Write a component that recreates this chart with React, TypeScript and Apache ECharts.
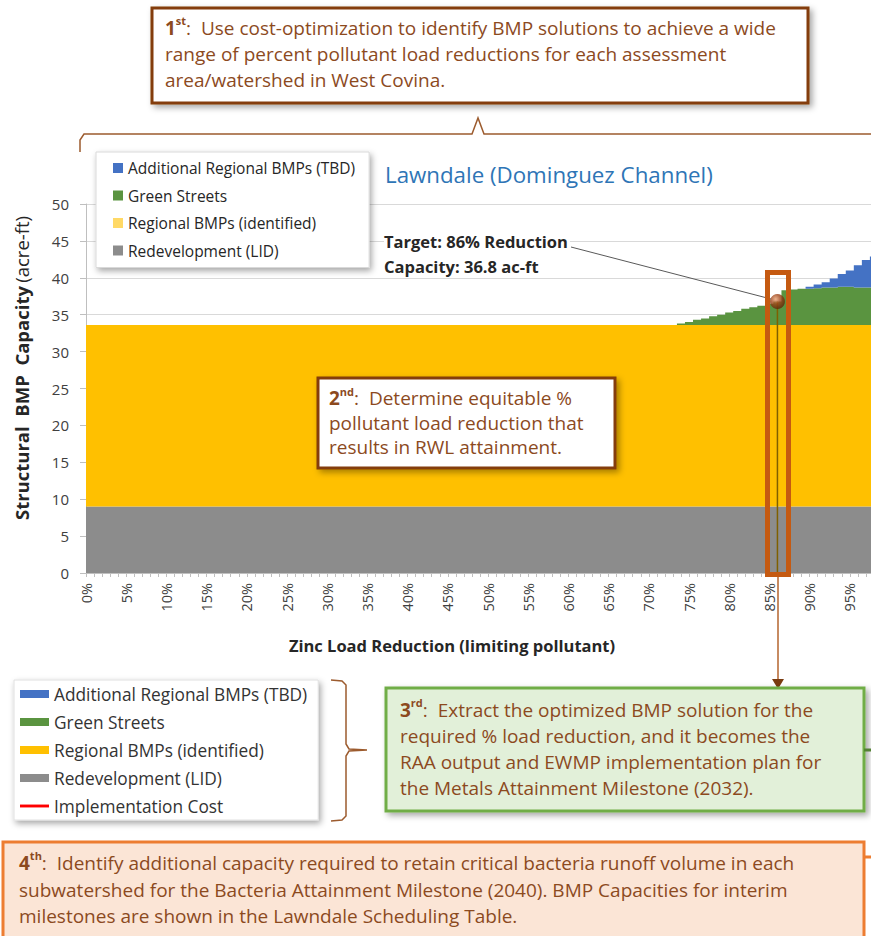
import React, { useEffect, useRef } from 'react';
import * as echarts from 'echarts';

const FONT = 'Open Sans';
const BROWN = '#8C4A1E';

// Category axis: percent load reduction
const categories = Array.from({ length: 101 }, (_, i) => `${i}%`);

// Structural BMP capacity (acre-ft) per load-reduction step
const redevelopmentLID = [
  9, 9, 9, 9, 9, 9, 9, 9, 9, 9,
  9, 9, 9, 9, 9, 9, 9, 9, 9, 9,
  9, 9, 9, 9, 9, 9, 9, 9, 9, 9,
  9, 9, 9, 9, 9, 9, 9, 9, 9, 9,
  9, 9, 9, 9, 9, 9, 9, 9, 9, 9,
  9, 9, 9, 9, 9, 9, 9, 9, 9, 9,
  9, 9, 9, 9, 9, 9, 9, 9, 9, 9,
  9, 9, 9, 9, 9, 9, 9, 9, 9, 9,
  9, 9, 9, 9, 9, 9, 9, 9, 9, 9,
  9, 9, 9, 9, 9, 9, 9, 9, 9, 9,
  9,
];

const regionalIdentified = [
  24.6, 24.6, 24.6, 24.6, 24.6, 24.6, 24.6, 24.6, 24.6, 24.6,
  24.6, 24.6, 24.6, 24.6, 24.6, 24.6, 24.6, 24.6, 24.6, 24.6,
  24.6, 24.6, 24.6, 24.6, 24.6, 24.6, 24.6, 24.6, 24.6, 24.6,
  24.6, 24.6, 24.6, 24.6, 24.6, 24.6, 24.6, 24.6, 24.6, 24.6,
  24.6, 24.6, 24.6, 24.6, 24.6, 24.6, 24.6, 24.6, 24.6, 24.6,
  24.6, 24.6, 24.6, 24.6, 24.6, 24.6, 24.6, 24.6, 24.6, 24.6,
  24.6, 24.6, 24.6, 24.6, 24.6, 24.6, 24.6, 24.6, 24.6, 24.6,
  24.6, 24.6, 24.6, 24.6, 24.6, 24.6, 24.6, 24.6, 24.6, 24.6,
  24.6, 24.6, 24.6, 24.6, 24.6, 24.6, 24.6, 24.6, 24.6, 24.6,
  24.6, 24.6, 24.6, 24.6, 24.6, 24.6, 24.6, 24.6, 24.6, 24.6,
  24.6,
];

const greenStreets = [
  0, 0, 0, 0, 0, 0, 0, 0, 0, 0,
  0, 0, 0, 0, 0, 0, 0, 0, 0, 0,
  0, 0, 0, 0, 0, 0, 0, 0, 0, 0,
  0, 0, 0, 0, 0, 0, 0, 0, 0, 0,
  0, 0, 0, 0, 0, 0, 0, 0, 0, 0,
  0, 0, 0, 0, 0, 0, 0, 0, 0, 0,
  0, 0, 0, 0, 0, 0, 0, 0, 0, 0,
  0, 0, 0, 0, 0.2, 0.4, 0.7, 0.9, 1.2, 1.4,
  1.7, 1.9, 2.2, 2.4, 2.6, 2.9, 3.2, 4.7, 4.8, 4.9,
  4.9, 5.0, 5.1, 5.1, 5.2, 5.2, 5.1, 5.1, 5.1, 5.1,
  5.1,
];

const additionalRegional = [
  0, 0, 0, 0, 0, 0, 0, 0, 0, 0,
  0, 0, 0, 0, 0, 0, 0, 0, 0, 0,
  0, 0, 0, 0, 0, 0, 0, 0, 0, 0,
  0, 0, 0, 0, 0, 0, 0, 0, 0, 0,
  0, 0, 0, 0, 0, 0, 0, 0, 0, 0,
  0, 0, 0, 0, 0, 0, 0, 0, 0, 0,
  0, 0, 0, 0, 0, 0, 0, 0, 0, 0,
  0, 0, 0, 0, 0, 0, 0, 0, 0, 0,
  0, 0, 0, 0, 0, 0, 0, 0, 0, 0,
  0.3, 0.5, 0.7, 1.2, 1.7, 2.2, 3.0, 3.7, 4.2, 4.8,
  5.3,
];

const yTicks = { min: 0, max: 50, interval: 5 };
// Last tick label that is visible in the (cropped) reference
const lastLabelIndex = 95;

// Target solution: 86% reduction, 36.8 ac-ft
const targetIndex = 86;
const targetCapacity = 36.8;

const NAMES = {
  blue: 'Additional Regional BMPs (TBD)',
  green: 'Green Streets',
  yellow: 'Regional BMPs (identified)',
  gray: 'Redevelopment (LID)',
  cost: 'Implementation Cost',
};

const COLORS = {
  blue: '#4472C4',
  green: '#5A9440',
  yellow: '#FFC000',
  gray: '#8C8C8C',
  cost: '#FF0000',
};

function areaSeries(name: string, data: number[], color: string) {
  return {
    name,
    type: 'line',
    stack: 'capacity',
    step: 'middle',
    data,
    symbol: 'none',
    itemStyle: { color },
    lineStyle: { color, width: 0 },
    areaStyle: { color, opacity: 1 },
    emphasis: { disabled: true },
  };
}

function stepText(num: string, sup: string, lines: string[]) {
  const first = `{n|${num}}{s|${sup}}{t|:  ${lines[0]}}`;
  return [first, ...lines.slice(1).map((l) => `{t|${l}}`)].join('\n');
}

function stepRich(size: number, lh: number) {
  return {
    n: { fontFamily: FONT, fontSize: size, fontWeight: 'bold', fill: BROWN, lineHeight: lh },
    s: { fontFamily: FONT, fontSize: Math.round(size * 0.6), fontWeight: 'bold', fill: BROWN, verticalAlign: 'top', lineHeight: Math.round(size * 0.85) },
    t: { fontFamily: FONT, fontSize: size, fill: BROWN, lineHeight: lh },
  };
}

const shadow = { shadowBlur: 6, shadowColor: 'rgba(0,0,0,0.35)', shadowOffsetX: 3, shadowOffsetY: 3 };
const BOX_FONT = 19;

const graphics: any[] = [
  // Box 1
  {
    type: 'rect', z: 100,
    shape: { x: 152, y: 8, width: 656, height: 95 },
    style: { fill: '#fff', stroke: '#843C0C', lineWidth: 3, ...shadow },
  },
  {
    type: 'text', z: 101, x: 165, y: 15,
    style: {
      text: stepText('1', 'st', [
        'Use cost-optimization to identify BMP solutions to achieve a wide',
        'range of percent pollutant load reductions for each assessment',
        'area/watershed in West Covina.',
      ]),
      rich: stepRich(BOX_FONT, 26),
      align: 'left', verticalAlign: 'top',
    },
  },
  // Top brace
  {
    type: 'polyline', z: 100,
    shape: { points: [[80, 152], [80, 140], [84, 134], [472, 134], [478, 118], [484, 134], [875, 134]] },
    style: { stroke: '#9C5B2E', lineWidth: 1.5, fill: 'none' },
  },
  // Box 2
  {
    type: 'rect', z: 100,
    shape: { x: 318, y: 378, width: 297, height: 90 },
    style: { fill: '#fff', stroke: '#843C0C', lineWidth: 3, ...shadow },
  },
  {
    type: 'text', z: 101, x: 329, y: 386,
    style: {
      text: stepText('2', 'nd', [
        'Determine equitable %',
        'pollutant load reduction that',
        'results in RWL attainment.',
      ]),
      rich: stepRich(BOX_FONT, 24.5),
      align: 'left', verticalAlign: 'top',
    },
  },
  // Annotation
  {
    type: 'line', z: 100,
    shape: { x1: 571, y1: 247, x2: 771, y2: 299 },
    style: { stroke: '#595959', lineWidth: 1 },
  },
  {
    type: 'text', z: 101, x: 384, y: 241,
    style: {
      text: 'Target: 86% Reduction', fontFamily: FONT, fontSize: 16.5, fontWeight: 'bold', fill: '#262626',
      align: 'left', verticalAlign: 'middle', backgroundColor: '#fff', padding: [1, 2, 1, 0],
    },
  },
  {
    type: 'text', z: 101, x: 384, y: 266,
    style: {
      text: 'Capacity: 36.8 ac-ft', fontFamily: FONT, fontSize: 16.5, fontWeight: 'bold', fill: '#262626',
      align: 'left', verticalAlign: 'middle', backgroundColor: '#fff', padding: [1, 2, 1, 0],
    },
  },
  // Highlight rectangle around target
  {
    type: 'rect', z: 100,
    shape: { x: 767.5, y: 272.5, width: 21, height: 302 },
    style: { fill: 'none', stroke: '#C55A11', lineWidth: 5 },
  },
  // Arrow to box 3
  {
    type: 'line', z: 100,
    shape: { x1: 778, y1: 577, x2: 778, y2: 682 },
    style: { stroke: '#B5652E', lineWidth: 1.5 },
  },
  {
    type: 'polygon', z: 100,
    shape: { points: [[772, 679], [784, 679], [778, 689]] },
    style: { fill: '#7A3B10' },
  },
  // Bottom brace
  {
    type: 'polyline', z: 100,
    shape: { points: [[331, 680], [342, 681], [346, 685], [346, 744], [349, 749], [367, 750], [349, 751], [346, 756], [346, 816], [342, 820], [331, 821]] },
    style: { stroke: '#9C5B2E', lineWidth: 1.5, fill: 'none' },
  },
  // Box 3
  {
    type: 'rect', z: 100,
    shape: { x: 386, y: 688, width: 478, height: 123 },
    style: { fill: '#E2F0D9', stroke: '#70AD47', lineWidth: 3, ...shadow },
  },
  {
    type: 'line', z: 100,
    shape: { x1: 864, y1: 750, x2: 875, y2: 750 },
    style: { stroke: '#548235', lineWidth: 3 },
  },
  {
    type: 'text', z: 101, x: 400, y: 697,
    style: {
      text: stepText('3', 'rd', [
        'Extract the optimized BMP solution for the',
        'required % load reduction, and it becomes the',
        'RAA output and EWMP implementation plan for',
        'the Metals Attainment Milestone (2032).',
      ]),
      rich: stepRich(BOX_FONT, 26),
      align: 'left', verticalAlign: 'top',
    },
  },
  // Box 4
  {
    type: 'rect', z: 100,
    shape: { x: 3, y: 842, width: 861, height: 110 },
    style: { fill: '#FBE5D6', stroke: '#ED7D31', lineWidth: 3 },
  },
  {
    type: 'line', z: 100,
    shape: { x1: 864, y1: 857, x2: 875, y2: 857 },
    style: { stroke: '#ED7D31', lineWidth: 3 },
  },
  {
    type: 'text', z: 101, x: 19, y: 850,
    style: {
      text: stepText('4', 'th', [
        'Identify additional capacity required to retain critical bacteria runoff volume in each',
        'subwatershed for the Bacteria Attainment Milestone (2040). BMP Capacities for interim',
        'milestones are shown in the Lawndale Scheduling Table.',
      ]),
      rich: stepRich(BOX_FONT, 26.5),
      align: 'left', verticalAlign: 'top',
    },
  },
  // Axis titles
  {
    type: 'text', z: 50, x: 21, y: 368, rotation: Math.PI / 2,
    style: {
      text: '{b|Structural  BMP  Capacity} {n|(acre-ft)}',
      rich: {
        b: { fontFamily: FONT, fontSize: 18.5, fontWeight: 'bold', fill: '#262626' },
        n: { fontFamily: FONT, fontSize: 18.5, fill: '#262626' },
      },
      align: 'center', verticalAlign: 'middle',
    },
  },
  {
    type: 'text', z: 50, x: 452, y: 645,
    style: {
      text: 'Zinc Load Reduction (limiting pollutant)', fontFamily: FONT, fontSize: 16.5, fontWeight: 'bold', fill: '#262626',
      align: 'center', verticalAlign: 'middle',
    },
  },
];

const option: any = {
  animation: false,
  backgroundColor: '#fff',
  title: {
    text: 'Lawndale (Dominguez Channel)',
    left: 385, top: 163, padding: 0,
    textStyle: { fontFamily: FONT, fontSize: 22.3, fontWeight: 'normal', color: '#2E75B6' },
  },
  legend: [
    {
      data: [
        { name: NAMES.blue },
        { name: NAMES.green },
        { name: NAMES.yellow, itemStyle: { color: '#FFD966' } },
        { name: NAMES.gray },
      ],
      orient: 'vertical', left: 96, top: 152,
      icon: 'rect', itemWidth: 10, itemHeight: 10, itemGap: 9.5,
      textStyle: { fontFamily: FONT, fontSize: 15.5, color: '#262626', lineHeight: 18 },
      padding: [7, 14, 8, 17],
      backgroundColor: '#fff', borderColor: '#d9d9d9', borderWidth: 1,
      shadowBlur: 6, shadowColor: 'rgba(0,0,0,0.35)', shadowOffsetX: 2, shadowOffsetY: 3,
      selectedMode: false, z: 20,
    },
    {
      data: [
        { name: NAMES.blue },
        { name: NAMES.green },
        { name: NAMES.yellow },
        { name: NAMES.gray },
        { name: NAMES.cost, icon: 'path://M0,0 L30,0 L30,3 L0,3 Z' },
      ],
      orient: 'vertical', left: 14, top: 680,
      icon: 'rect', itemWidth: 29, itemHeight: 8, itemGap: 10,
      textStyle: { fontFamily: FONT, fontSize: 17.3, color: '#333', lineHeight: 18 },
      padding: [5, 11, 5, 6],
      backgroundColor: '#fff', borderColor: '#e0e0e0', borderWidth: 1,
      shadowBlur: 6, shadowColor: 'rgba(0,0,0,0.35)', shadowOffsetX: 2, shadowOffsetY: 3,
      selectedMode: false, z: 20,
    },
  ],
  grid: { left: 86, top: 204, right: 20, bottom: 363, containLabel: false },
  xAxis: {
    type: 'category',
    data: categories,
    boundaryGap: false,
    axisLine: { show: true, lineStyle: { color: '#bfbfbf' } },
    axisTick: { show: true, interval: 0, length: 4, lineStyle: { color: '#bfbfbf' } },
    axisLabel: {
      interval: (index: number) => index % 5 === 0 && index <= lastLabelIndex,
      rotate: 90, margin: 10, fontFamily: FONT, fontSize: 14.5, color: '#404040',
    },
    splitLine: { show: false },
  },
  yAxis: {
    type: 'value',
    min: yTicks.min, max: yTicks.max, interval: yTicks.interval,
    axisLine: { show: true, lineStyle: { color: '#bfbfbf' } },
    axisTick: { show: true, length: 6, lineStyle: { color: '#bfbfbf' } },
    axisLabel: { margin: 17, fontFamily: FONT, fontSize: 15, color: '#404040' },
    splitLine: { show: true, lineStyle: { color: '#d9d9d9' } },
  },
  series: [
    areaSeries(NAMES.gray, redevelopmentLID, COLORS.gray),
    areaSeries(NAMES.yellow, regionalIdentified, COLORS.yellow),
    areaSeries(NAMES.green, greenStreets, COLORS.green),
    areaSeries(NAMES.blue, additionalRegional, COLORS.blue),
    {
      name: NAMES.cost, type: 'line', data: [],
      itemStyle: { color: COLORS.cost }, lineStyle: { color: COLORS.cost, width: 2 },
    },
    {
      name: 'Target drop line', type: 'line',
      data: [[targetIndex, 0], [targetIndex, targetCapacity]],
      symbol: 'none', lineStyle: { color: '#7F6000', width: 1.5 }, z: 5,
    },
    {
      name: 'Target', type: 'scatter',
      data: [[targetIndex, targetCapacity]],
      symbolSize: 15, z: 6,
      itemStyle: {
        color: new echarts.graphic.RadialGradient(0.38, 0.35, 0.7, [
          { offset: 0, color: '#E8A070' },
          { offset: 0.45, color: '#A0461A' },
          { offset: 1, color: '#5C2206' },
        ]),
      },
    },
  ],
  graphic: graphics,
};

export default function App() {
  const ref = useRef<HTMLDivElement>(null);
  useEffect(() => {
    document.body.style.margin = '0';
    document.body.style.overflow = 'hidden';
    const chart = echarts.init(ref.current!, null, { renderer: 'svg' });
    chart.setOption(option);
    return () => chart.dispose();
  }, []);
  return (
    <div style={{ width: 871, height: 936, overflow: 'hidden', position: 'relative' }}>
      <div ref={ref} style={{ width: 910, height: 936 }} />
    </div>
  );
}
